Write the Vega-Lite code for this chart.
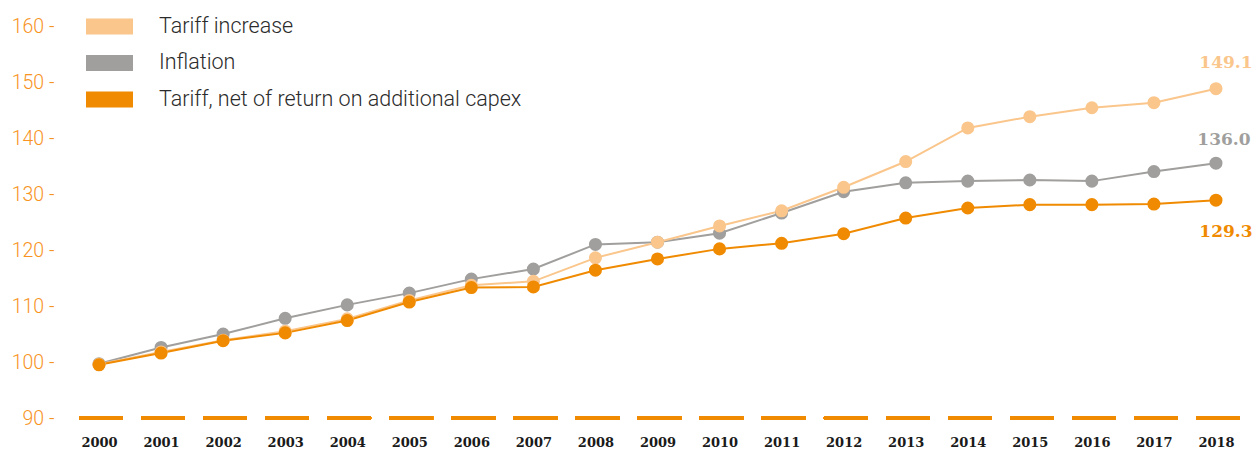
{
  "$schema": "https://vega.github.io/schema/vega-lite/v6.json",
  "width": 1179,
  "height": 392,
  "autosize": {"type": "none"},
  "padding": {"left": 68, "top": 26, "right": 9, "bottom": 31},
  "background": "white",
  "config": {"view": {"stroke": null}},
  "datasets": {
    "series": [
      {"year": "2000", "series": "Inflation", "value": 99.7},
      {"year": "2001", "series": "Inflation", "value": 102.6},
      {"year": "2002", "series": "Inflation", "value": 105.0},
      {"year": "2003", "series": "Inflation", "value": 107.8},
      {"year": "2004", "series": "Inflation", "value": 110.2},
      {"year": "2005", "series": "Inflation", "value": 112.3},
      {"year": "2006", "series": "Inflation", "value": 114.8},
      {"year": "2007", "series": "Inflation", "value": 116.6},
      {"year": "2008", "series": "Inflation", "value": 121.0},
      {"year": "2009", "series": "Inflation", "value": 121.4},
      {"year": "2010", "series": "Inflation", "value": 123.0},
      {"year": "2011", "series": "Inflation", "value": 126.6},
      {"year": "2012", "series": "Inflation", "value": 130.4},
      {"year": "2013", "series": "Inflation", "value": 132.0},
      {"year": "2014", "series": "Inflation", "value": 132.3},
      {"year": "2015", "series": "Inflation", "value": 132.5},
      {"year": "2016", "series": "Inflation", "value": 132.3},
      {"year": "2017", "series": "Inflation", "value": 134.0},
      {"year": "2018", "series": "Inflation", "value": 135.5},
      {"year": "2000", "series": "Tariff increase", "value": 99.6},
      {"year": "2001", "series": "Tariff increase", "value": 101.8},
      {"year": "2002", "series": "Tariff increase", "value": 103.9},
      {"year": "2003", "series": "Tariff increase", "value": 105.5},
      {"year": "2004", "series": "Tariff increase", "value": 107.7},
      {"year": "2005", "series": "Tariff increase", "value": 111.0},
      {"year": "2006", "series": "Tariff increase", "value": 113.7},
      {"year": "2007", "series": "Tariff increase", "value": 114.4},
      {"year": "2008", "series": "Tariff increase", "value": 118.6},
      {"year": "2009", "series": "Tariff increase", "value": 121.4},
      {"year": "2010", "series": "Tariff increase", "value": 124.3},
      {"year": "2011", "series": "Tariff increase", "value": 127.0},
      {"year": "2012", "series": "Tariff increase", "value": 131.2},
      {"year": "2013", "series": "Tariff increase", "value": 135.8},
      {"year": "2014", "series": "Tariff increase", "value": 141.8},
      {"year": "2015", "series": "Tariff increase", "value": 143.8},
      {"year": "2016", "series": "Tariff increase", "value": 145.4},
      {"year": "2017", "series": "Tariff increase", "value": 146.3},
      {"year": "2018", "series": "Tariff increase", "value": 148.8},
      {"year": "2000", "series": "Tariff, net of return on additional capex", "value": 99.5},
      {"year": "2001", "series": "Tariff, net of return on additional capex", "value": 101.6},
      {"year": "2002", "series": "Tariff, net of return on additional capex", "value": 103.8},
      {"year": "2003", "series": "Tariff, net of return on additional capex", "value": 105.2},
      {"year": "2004", "series": "Tariff, net of return on additional capex", "value": 107.4},
      {"year": "2005", "series": "Tariff, net of return on additional capex", "value": 110.7},
      {"year": "2006", "series": "Tariff, net of return on additional capex", "value": 113.3},
      {"year": "2007", "series": "Tariff, net of return on additional capex", "value": 113.4},
      {"year": "2008", "series": "Tariff, net of return on additional capex", "value": 116.4},
      {"year": "2009", "series": "Tariff, net of return on additional capex", "value": 118.4},
      {"year": "2010", "series": "Tariff, net of return on additional capex", "value": 120.2},
      {"year": "2011", "series": "Tariff, net of return on additional capex", "value": 121.2},
      {"year": "2012", "series": "Tariff, net of return on additional capex", "value": 122.9},
      {"year": "2013", "series": "Tariff, net of return on additional capex", "value": 125.7},
      {"year": "2014", "series": "Tariff, net of return on additional capex", "value": 127.5},
      {"year": "2015", "series": "Tariff, net of return on additional capex", "value": 128.1},
      {"year": "2016", "series": "Tariff, net of return on additional capex", "value": 128.1},
      {"year": "2017", "series": "Tariff, net of return on additional capex", "value": 128.2},
      {"year": "2018", "series": "Tariff, net of return on additional capex", "value": 128.9}
    ],
    "endLabels": [
      {"year": "2018", "series": "Tariff increase", "value": 148.8, "label": "149.1"},
      {"year": "2018", "series": "Inflation", "value": 135.5, "label": "136.0"},
      {"year": "2018", "series": "Tariff, net of return on additional capex", "value": 128.9, "label": "129.3"}
    ]
  },
  "encoding": {
    "x": {
      "field": "year", "type": "ordinal",
      "scale": {"type": "point", "padding": 0.5},
      "axis": {
        "title": null, "domain": false, "ticks": false, "grid": false,
        "labelAngle": 0, "labelPadding": 18,
        "labelFont": "DejaVu Serif", "labelFontWeight": "bold", "labelFontSize": 13,
        "labelColor": "#1a1a1a"
      }
    },
    "y": {
      "field": "value", "type": "quantitative",
      "scale": {"domain": [90, 160], "nice": false, "zero": false},
      "axis": {
        "title": null, "domain": false, "ticks": false, "grid": false,
        "values": [90, 100, 110, 120, 130, 140, 150, 160],
        "labelExpr": "datum.label + ' -'",
        "labelPadding": 14,
        "labelFont": "Roboto", "labelFontWeight": 300, "labelFontSize": 19.5,
        "labelColor": "#F7931E"
      }
    },
    "color": {
      "field": "series", "type": "nominal",
      "scale": {
        "domain": ["Tariff increase", "Inflation", "Tariff, net of return on additional capex"],
        "range": ["#FAC68C", "#A09F9D", "#F08A00"]
      }
    }
  },
  "layer": [
    {
      "data": {"name": "series"},
      "mark": {"type": "rule", "strokeWidth": 2.8, "color": "#F08A00", "strokeDash": [43.5, 18.55], "strokeDashOffset": 54.8},
      "encoding": {"x": null, "color": null, "y": {"datum": 90, "type": "quantitative"}}
    },
    {
      "data": {"name": "series"},
      "mark": {"type": "line", "strokeWidth": 2},
      "encoding": {}
    },
    {
      "data": {"name": "series"},
      "mark": {"type": "point", "filled": true, "size": 170, "opacity": 1},
      "encoding": {
        "color": {
          "field": "series", "type": "nominal",
          "legend": {
            "title": null, "orient": "none", "legendX": 18, "legendY": -23,
            "symbolType": "M-1,-0.34L1,-0.34L1,0.34L-1,0.34Z",
            "symbolSize": 2209, "symbolStrokeWidth": 0, "symbolOpacity": 1,
            "labelFont": "Roboto", "labelFontWeight": 300, "labelFontSize": 21.5, "labelColor": "#2b2b2b",
            "labelOffset": 26, "rowPadding": 2.5, "labelLimit": 600
          }
        }
      }
    },
    {
      "data": {"name": "endLabels"},
      "transform": [{"filter": "datum.series === 'Tariff increase'"}],
      "mark": {"type": "text", "dx": 10, "dy": -26, "font": "DejaVu Serif", "fontWeight": "bold", "fontSize": 17},
      "encoding": {"text": {"field": "label"}}
    },
    {
      "data": {"name": "endLabels"},
      "transform": [{"filter": "datum.series === 'Inflation'"}],
      "mark": {"type": "text", "dx": 8, "dy": -23, "font": "DejaVu Serif", "fontWeight": "bold", "fontSize": 17},
      "encoding": {"text": {"field": "label"}}
    },
    {
      "data": {"name": "endLabels"},
      "transform": [{"filter": "datum.series === 'Tariff, net of return on additional capex'"}],
      "mark": {"type": "text", "dx": 10, "dy": 32, "font": "DejaVu Serif", "fontWeight": "bold", "fontSize": 17},
      "encoding": {"text": {"field": "label"}}
    }
  ]
}
